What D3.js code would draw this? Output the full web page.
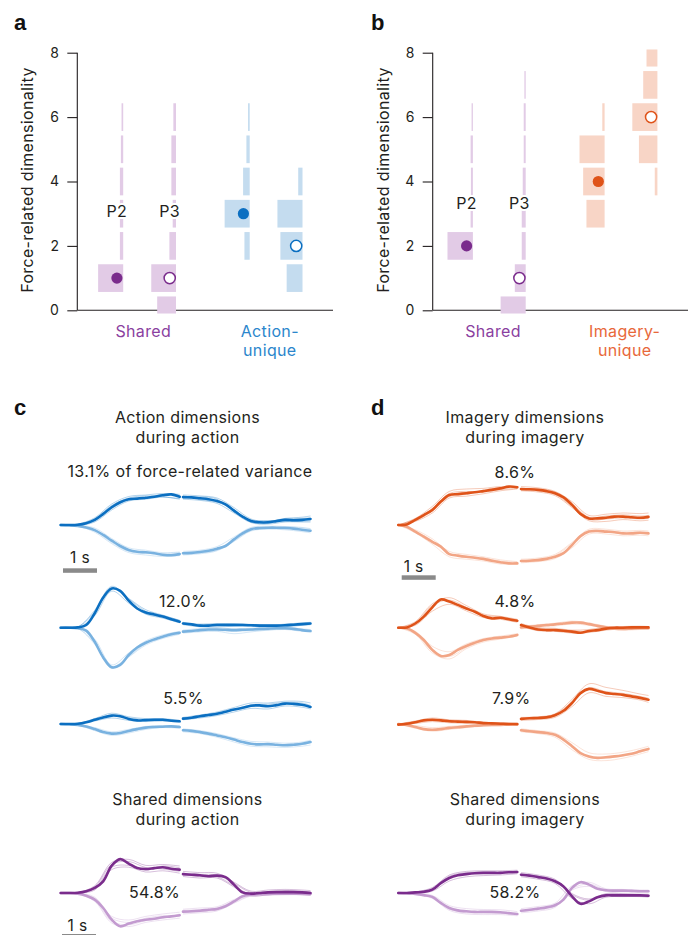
<!DOCTYPE html>
<html>
<head>
<meta charset="utf-8">
<script src="https://cdn.jsdelivr.net/npm/d3@7"></script>
<style>
  body { margin: 0; background: #fff; }
  svg { display: block; font-family: Inter, "Open Sans", "Noto Sans", Arial, sans-serif; letter-spacing: 0.35px; }
</style>
</head>
<body>
<svg id="fig" width="694" height="935"></svg>
<script>
// ---------- Dimensionality distributions (share of resamples per dimensionality 0..8) ----------
const dimValues = [0, 1, 2, 3, 4, 5, 6, 7, 8];
const yTicks = [0, 2, 4, 6, 8];
const participants = ["P2", "P3"];

const groupsAction = ["Shared", "Action-unique"];
const sharedActionP2 = [0, 0.76, 0.10, 0.10, 0.10, 0.07, 0.05, 0, 0];
const sharedActionP3 = [0.57, 0.75, 0.20, 0.10, 0.14, 0.14, 0.08, 0, 0];
const actionUniqueP2 = [0, 0, 0.16, 0.76, 0.20, 0.10, 0.05, 0, 0];
const actionUniqueP3 = [0, 0.48, 0.67, 0.76, 0.13, 0, 0, 0, 0];
const medianAction = [1, 1, 3, 2]; // Shared P2, Shared P3, Action P2, Action P3

const groupsImagery = ["Shared", "Imagery-unique"];
const sharedImageryP2 = [0, 0, 0.77, 0.07, 0.06, 0.07, 0.04, 0, 0];
const sharedImageryP3 = [0.76, 0.33, 0.12, 0.12, 0.09, 0.06, 0.06, 0.04, 0];
const imageryUniqueP2 = [0, 0, 0, 0.55, 0.65, 0.76, 0.07, 0, 0];
const imageryUniqueP3 = [0, 0, 0, 0, 0.08, 0.56, 0.76, 0.43, 0.33];
const medianImagery = [2, 1, 4, 6];

// ---------- Neural trajectories (a.u.), two halves per trace ----------
const tMeanL = d3.range(0, 3.5001, 0.25);
const tMeanR = d3.range(0, 3.7501, 0.25);
const tThinL = d3.range(0, 3.5001, 0.5);
const tThinR = d3.range(0, 3.5001, 0.5).concat([3.75]);

const actionDim1 = {
  hiL: [0, 0, .01, .06, .17, .37, .59, .76, .86, .88, .91, .94, .99, 1.02, .94],
  hiR: [.93, .92, .89, .86, .80, .69, .48, .28, .13, .09, .09, .13, .17, .16, .17, .20],
  loL: [0, -.01, -.03, -.08, -.17, -.33, -.52, -.70, -.83, -.89, -.91, -.94, -.99, -1.01, -.97],
  loR: [-.94, -.93, -.90, -.86, -.79, -.70, -.48, -.28, -.14, -.10, -.09, -.09, -.10, -.12, -.16, -.19],
  hiThin: [
    [0, .03, .24, .70, .95, 1.0, 1.05, 1.02, 1.0, .97, .9, .58, .2, .12, .22, .26, .3],
    [0, -.01, .10, .50, .80, .86, .93, .88, .86, .82, .72, .40, .08, .03, .10, .12, .14],
    [0, .02, .20, .65, .90, .97, .94, .86, .90, .94, .86, .44, .16, .15, .12, .10, .10],
    [0, 0, .14, .55, .84, .88, 1.02, .98, .96, .85, .76, .52, .10, .05, .20, .22, .24]
  ],
  loThin: [
    [0, -.04, -.24, -.62, -.92, -1.0, -1.05, -1.02, -1.0, -.96, -.86, -.55, -.2, -.14, -.16, -.22, -.26],
    [0, -.01, -.10, -.45, -.76, -.84, -.92, -.90, -.88, -.84, -.72, -.40, -.08, -.04, -.05, -.08, -.12],
    [0, -.02, -.20, -.58, -.88, -.95, -.96, -.92, -.96, -.93, -.84, -.52, -.18, -.12, -.06, -.10, -.14]
  ]
};
const actionDim2 = {
  hiL: [0, 0, .01, .09, .48, 1.01, 1.31, 1.23, .90, .64, .51, .44, .37, .28, .20],
  hiR: [.14, .11, .07, .07, .09, .09, .09, .09, .08, .07, .07, .07, .08, .10, .12, .14],
  loL: [0, 0, -.02, -.10, -.47, -.99, -1.32, -1.24, -.91, -.66, -.50, -.39, -.30, -.22, -.17],
  loR: [-.13, -.11, -.08, -.06, -.06, -.07, -.08, -.07, -.06, -.04, -.03, -.02, -.02, -.04, -.08, -.11],
  hiThin: [
    [0, .03, .58, 1.38, .98, .60, .42, .24, .18, .12, .14, .12, .10, .08, .12, .16, .18],
    [0, 0, .40, 1.22, .82, .45, .32, .16, .10, .03, .02, .05, .06, .04, .03, .08, .10],
    [0, .02, .52, 1.30, .95, .55, .40, .25, .16, .10, .12, .14, .11, .09, .06, .10, .12]
  ],
  loThin: [
    [0, -.03, -.55, -1.36, -.98, -.58, -.36, -.22, -.18, -.14, -.10, -.12, -.10, -.08, -.06, -.12, -.14],
    [0, 0, -.38, -1.24, -.84, -.44, -.24, -.12, -.08, -.03, -.01, -.04, -.02, .01, .02, -.04, -.06],
    [0, -.02, -.50, -1.30, -.95, -.54, -.32, -.20, -.16, -.10, -.12, -.20, -.14, -.08, -.04, -.10, -.12]
  ]
};
const actionDim3 = {
  hiL: [0, 0, .01, .06, .14, .22, .28, .26, .17, .12, .13, .14, .14, .11, .09],
  hiR: [.18, .21, .26, .30, .34, .41, .48, .54, .61, .62, .59, .63, .68, .67, .64, .57],
  loL: [0, -.01, -.03, -.08, -.17, -.27, -.32, -.30, -.23, -.17, -.12, -.10, -.09, -.08, -.10],
  loR: [-.21, -.23, -.27, -.32, -.38, -.44, -.52, -.60, -.66, -.68, -.67, -.69, -.71, -.69, -.66, -.60],
  hiThin: [
    [0, .02, .18, .36, .24, .18, .18, .12, .22, .30, .40, .55, .70, .70, .76, .75, .70],
    [0, 0, .10, .20, .12, .08, .10, .06, .14, .20, .28, .40, .52, .50, .60, .56, .50],
    [0, .01, .16, .30, .20, .15, .16, .10, .16, .24, .36, .46, .64, .66, .72, .70, .62]
  ],
  loThin: [
    [0, -.04, -.22, -.38, -.30, -.18, -.12, -.14, -.26, -.32, -.44, -.60, -.74, -.76, -.78, -.74, -.70],
    [0, -.01, -.12, -.26, -.18, -.08, -.05, -.06, -.16, -.22, -.32, -.46, -.58, -.60, -.64, -.60, -.54],
    [0, -.02, -.16, -.34, -.26, -.14, -.10, -.08, -.20, -.28, -.36, -.50, -.68, -.70, -.72, -.68, -.62]
  ]
};
const sharedDuringAction = {
  hiL: [0, 0, .01, .06, .17, .39, .91, 1.13, .98, .83, .80, .83, .86, .81, .78],
  hiR: [.63, .61, .59, .56, .58, .53, .28, .02, -.02, 0, .02, .03, .03, .03, .02, 0],
  loL: [0, 0, -.02, -.09, -.22, -.50, -.89, -1.11, -1.02, -.94, -.89, -.86, -.81, -.78, -.74],
  loR: [-.62, -.61, -.59, -.56, -.53, -.44, -.28, -.11, -.06, -.03, -.03, -.02, -.02, -.02, -.02, -.03],
  hiThin: [
    [0, .02, .24, 1.02, 1.12, .92, .95, .90, .72, .68, .66, .36, .06, .10, .12, .10, .08],
    [0, 0, .10, .78, .86, .70, .74, .66, .55, .50, .50, .20, -.10, -.06, -.04, -.06, -.08],
    [0, .01, .20, .95, 1.05, .85, .80, .72, .66, .62, .60, .32, .02, .05, .08, .06, .04],
    [0, .01, .14, .86, .92, .76, .90, .84, .60, .56, .54, .24, -.05, .00, .06, .04, .02]
  ],
  loThin: [
    [0, -.03, -.28, -1.0, -1.12, -.98, -.90, -.84, -.70, -.66, -.60, -.34, -.10, -.08, -.06, -.06, -.07],
    [0, 0, -.14, -.78, -.90, -.78, -.70, -.64, -.54, -.50, -.46, -.22, -.02, .02, .03, .02, .01],
    [0, -.02, -.24, -.94, -1.06, -.92, -.84, -.70, -.66, -.62, -.56, -.30, -.08, -.05, -.04, -.05, -.04],
    [0, -.01, -.18, -.84, -.98, -.84, -.76, -.78, -.58, -.55, -.50, -.26, -.04, .00, .01, .00, -.01]
  ]
};

const imageryDim1 = {
  hiL: [0, .02, .17, .33, .50, .78, 1.0, 1.03, 1.06, 1.09, 1.13, 1.17, 1.22, 1.28, 1.26],
  hiR: [1.20, 1.19, 1.17, 1.13, 1.06, .92, .67, .37, .22, .22, .24, .28, .28, .26, .24, .27],
  loL: [0, -.06, -.22, -.39, -.56, -.72, -.97, -1.02, -1.06, -1.09, -1.13, -1.19, -1.24, -1.28, -1.28],
  loR: [-1.20, -1.19, -1.17, -1.13, -1.06, -.94, -.67, -.37, -.22, -.20, -.22, -.24, -.28, -.28, -.26, -.28],
  hiThin: [
    [0, .22, .62, 1.12, 1.2, 1.22, 1.28, 1.24, 1.28, 1.24, 1.12, .78, .32, .36, .40, .38, .40],
    [0, .12, .40, .90, .96, 1.04, 1.14, 1.20, 1.14, 1.10, .98, .58, .14, .12, .18, .14, .16],
    [0, .20, .55, 1.05, 1.12, 1.10, 1.18, 1.22, 1.22, 1.20, 1.10, .72, .26, .30, .34, .30, .32],
    [0, .15, .46, .95, 1.02, 1.16, 1.25, 1.28, 1.16, 1.14, 1.02, .62, .18, .20, .24, .20, .22]
  ],
  loThin: [
    [0, -.26, -.64, -1.06, -1.14, -1.20, -1.30, -1.30, -1.26, -1.22, -1.12, -.76, -.30, -.30, -.36, -.34, -.36],
    [0, -.16, -.46, -.88, -.98, -1.06, -1.16, -1.22, -1.14, -1.10, -.98, -.58, -.14, -.14, -.20, -.18, -.20],
    [0, -.20, -.52, -.94, -1.04, -1.10, -1.20, -1.24, -1.18, -1.14, -1.02, -.62, -.18, -.18, -.24, -.22, -.24]
  ]
};
const imageryDim2 = {
  hiL: [0, .01, .14, .37, .68, .94, .87, .76, .64, .53, .39, .31, .33, .28, .23],
  hiR: [.09, .01, -.06, -.08, -.08, -.10, -.13, -.17, -.11, -.08, -.03, 0, 0, .01, .01, .01],
  loL: [0, -.02, -.17, -.41, -.74, -.94, -.91, -.74, -.61, -.50, -.41, -.36, -.33, -.30, -.24],
  loR: [.01, .03, .06, .09, .11, .14, .17, .17, .12, .06, .01, -.03, -.04, -.03, -.02, -.02],
  hiThin: [
    [0, .20, .80, 1.00, .74, .46, .38, .28, .14, 0, -.02, -.08, -.06, .02, .04, .05, .04],
    [0, .08, .55, .78, .56, .34, .28, .18, .04, -.10, -.12, -.18, -.16, -.08, -.04, -.03, -.02],
    [0, .16, .74, .92, .68, .42, .35, .26, .10, -.04, -.06, -.10, -.12, -.02, .02, .04, .03]
  ],
  loThin: [
    [0, -.22, -.84, -1.04, -.70, -.48, -.38, -.28, -.04, .02, .06, .12, .08, -.02, -.08, -.06, -.05],
    [0, -.12, -.62, -.80, -.54, -.36, -.28, -.20, .05, .10, .15, .22, .16, .05, 0, .02, .01],
    [0, -.18, -.78, -.96, -.66, -.44, -.34, -.26, .02, .08, .12, .18, .12, .03, -.06, -.02, -.03]
  ]
};
const imageryDim3 = {
  hiL: [-.02, .01, .06, .12, .14, .12, .09, .08, .07, .06, .03, .02, .01, 0, 0],
  hiR: [.17, .19, .20, .22, .29, .44, .70, 1.03, 1.17, 1.11, 1.03, 1.0, .97, .92, .87, .81],
  loL: [0, -.03, -.10, -.17, -.19, -.17, -.13, -.11, -.08, -.06, -.04, -.03, -.03, -.02, -.02],
  loR: [-.21, -.24, -.27, -.30, -.36, -.52, -.74, -.97, -1.08, -1.13, -1.11, -1.08, -1.04, -.99, -.91, -.83],
  hiThin: [
    [0, .10, .20, .14, .12, .06, .04, .02, .22, .24, .34, .82, 1.34, 1.22, 1.12, 1.00, .95],
    [0, .02, .08, .04, .02, -.02, -.03, -.02, .12, .15, .22, .58, 1.04, .92, .88, .80, .72],
    [0, .08, .16, .12, .08, .05, .03, .01, .18, .22, .32, .74, 1.20, 1.08, 1.02, .92, .86]
  ],
  loThin: [
    [0, -.14, -.24, -.18, -.12, -.07, -.05, -.03, -.26, -.32, -.44, -.86, -1.18, -1.22, -1.14, -1.0, -.92],
    [0, -.05, -.12, -.08, -.04, -.01, .00, .00, -.16, -.22, -.30, -.62, -.96, -1.0, -.94, -.82, -.74],
    [0, -.11, -.20, -.14, -.10, -.05, -.04, -.03, -.22, -.28, -.38, -.78, -1.12, -1.14, -1.06, -.94, -.86]
  ]
};
const sharedDuringImagery = {
  hiL: [0, 0, .02, .04, .11, .33, .50, .59, .63, .66, .67, .67, .67, .69, .70],
  hiR: [.61, .58, .53, .48, .39, .22, -.11, -.36, -.28, -.14, -.08, -.08, -.08, -.08, -.08, -.09],
  loL: [0, -.01, -.03, -.07, -.13, -.33, -.50, -.58, -.61, -.63, -.63, -.63, -.64, -.67, -.70],
  loR: [-.59, -.56, -.52, -.48, -.41, -.22, .17, .36, .28, .14, .09, .08, .08, .07, .06, .06],
  hiThin: [
    [0, .04, .18, .60, .72, .74, .74, .76, .68, .60, .46, -.02, -.20, -.02, -.02, -.04, -.04],
    [0, 0, .06, .40, .54, .58, .60, .64, .54, .46, .32, -.18, -.36, -.14, -.12, -.12, -.14],
    [0, .03, .14, .56, .68, .70, .70, .72, .64, .56, .42, -.06, -.24, -.05, -.05, -.06, -.06]
  ],
  loThin: [
    [0, -.05, -.18, -.58, -.70, -.72, -.72, -.76, -.66, -.60, -.48, .10, .22, .05, .04, .03, .03],
    [0, -.01, -.08, -.42, -.52, -.55, -.56, -.62, -.52, -.45, -.34, .24, .36, .14, .12, .10, .10],
    [0, -.04, -.16, -.54, -.66, -.66, -.68, -.72, -.62, -.56, -.44, .14, .30, .10, .08, .07, .06]
  ]
};

// ---------- Palette ----------
const ink = "#231f20";
const purple = { dark: "#7a2c8c", light: "#c39bd0", bar: "#e2cbe6", text: "#8a3fa0" };
const blue   = { dark: "#0b6fc1", light: "#79b2e0", bar: "#c4dcef", text: "#2b86cc" };
const orange = { dark: "#df5319", light: "#f2a585", bar: "#f8d5c6", text: "#e8683a" };

const svg = d3.select("#fig");

// panel letters
[["a", 14, 30], ["b", 371, 30], ["c", 14, 415], ["d", 371, 415]].forEach(([t, x, y]) => {
  svg.append("text").attr("x", x).attr("y", y).text(t)
    .attr("font-family", "'Liberation Sans', Arial, sans-serif").attr("letter-spacing", 0)
    .attr("font-weight", "bold").attr("font-size", 22).attr("fill", "#111");
});

// ---------- Panels a/b: dimensionality distributions ----------
const yDim = d3.scaleLinear().domain([0, 8]).range([310.3, 52.7]);
const wDim = d3.scaleLinear().domain([0, 1]).range([0, 33]);
const pOffset = d3.scalePoint().domain(participants).range([-26.4, 26.4]);

function dimPanel(cfg) {
  const g = svg.append("g");
  const gx = d3.scalePoint().domain(cfg.groups).range(cfg.groupRange);

  // y axis
  const axis = d3.axisLeft(yDim).tickValues(yTicks).tickSize(10).tickPadding(8);
  const ax = g.append("g").attr("transform", `translate(${cfg.axisX},0)`).call(axis);
  ax.select(".domain").remove();
  ax.selectAll(".tick line").attr("stroke", ink).attr("stroke-width", 1.1);
  ax.selectAll(".tick text").attr("font-size", 14).attr("fill", ink)
    .attr("font-family", "Inter, 'Open Sans', sans-serif");
  g.append("line").attr("x1", cfg.axisX).attr("x2", cfg.axisX)
    .attr("y1", yDim(0)).attr("y2", yDim(8)).attr("stroke", ink).attr("stroke-width", 1.1);
  g.append("line").attr("x1", cfg.axisX).attr("x2", cfg.axisEnd)
    .attr("y1", yDim(0)).attr("y2", yDim(0)).attr("stroke", ink).attr("stroke-width", 1.1);

  g.append("text")
    .attr("transform", `translate(${cfg.axisX - 44},${yDim(4) - 1.5}) rotate(-90)`)
    .attr("text-anchor", "middle").attr("font-size", 16).attr("fill", ink)
    .text("Force-related dimensionality");

  cfg.cols.forEach(c => {
    const cx = gx(c.group) + pOffset(c.p);
    const right = cx + 6.3;
    const pal = c.pal;
    dimValues.forEach((k, j) => {
      const s = c.share[j];
      if (!s) return;
      const lo = Math.max(k - 0.43, -0.1), hi = Math.min(k + 0.43, 8.1);
      g.append("rect")
        .attr("x", right - wDim(s)).attr("width", wDim(s))
        .attr("y", yDim(hi)).attr("height", yDim(lo) - yDim(hi))
        .attr("fill", pal.bar);
    });
    g.append("circle").attr("cx", cx).attr("cy", yDim(c.median)).attr("r", 5.6)
      .attr("fill", c.p === "P2" ? pal.dark : "#fff")
      .attr("stroke", pal.dark).attr("stroke-width", c.p === "P2" ? 0 : 1.5);
    if (c.group === "Shared") {
      g.append("text").attr("x", cx).attr("y", yDim(cfg.labelAt))
        .attr("text-anchor", "middle").attr("font-size", 16).attr("fill", ink)
        .attr("stroke", "#fff").attr("stroke-width", 4).attr("paint-order", "stroke")
        .text(c.p);
    }
  });

  cfg.groups.forEach((gr, i) => {
    const pal = cfg.groupPal[i];
    const parts = gr.includes("-") ? [gr.split("-")[0] + "-", gr.split("-")[1]] : [gr];
    parts.forEach((t, li) => {
      g.append("text").attr("x", gx(gr)).attr("y", 337 + li * 18.5)
        .attr("text-anchor", "middle").attr("font-size", 16).attr("fill", pal.text).text(t);
    });
  });
}

dimPanel({
  axisX: 77.3, axisEnd: 333, groups: groupsAction, groupRange: [143.3, 269.8],
  groupPal: [purple, blue], labelAt: 2.9,
  cols: [
    { group: "Shared", p: "P2", share: sharedActionP2, median: medianAction[0], pal: purple },
    { group: "Shared", p: "P3", share: sharedActionP3, median: medianAction[1], pal: purple },
    { group: "Action-unique", p: "P2", share: actionUniqueP2, median: medianAction[2], pal: blue },
    { group: "Action-unique", p: "P3", share: actionUniqueP3, median: medianAction[3], pal: blue }
  ]
});
dimPanel({
  axisX: 432.7, axisEnd: 688, groups: groupsImagery, groupRange: [493, 624.7],
  groupPal: [purple, orange], labelAt: 3.14,
  cols: [
    { group: "Shared", p: "P2", share: sharedImageryP2, median: medianImagery[0], pal: purple },
    { group: "Shared", p: "P3", share: sharedImageryP3, median: medianImagery[1], pal: purple },
    { group: "Imagery-unique", p: "P2", share: imageryUniqueP2, median: medianImagery[2], pal: orange },
    { group: "Imagery-unique", p: "P3", share: imageryUniqueP3, median: medianImagery[3], pal: orange }
  ]
});

// ---------- Panels c/d: trajectories ----------
const pxPerSecond = 34;
function trace(block, x0L, x0R, baseline, pal) {
  const g = svg.append("g");
  const xL = d3.scaleLinear().domain([0, 3.5]).range([x0L, x0L + 3.5 * pxPerSecond]);
  const xR = d3.scaleLinear().domain([0, 3.75]).range([x0R, x0R + 3.75 * pxPerSecond]);
  const y = d3.scaleLinear().domain([-1, 1]).range([baseline + 30, baseline - 30]);
  const mk = xs => d3.line().x(d => xs(d[0])).y(d => y(d[1])).curve(d3.curveCatmullRom.alpha(0.5));
  const lineL = mk(xL), lineR = mk(xR);

  const thin = (arr, color) => {
    const left = tThinL.map((t, i) => [t, arr[i]]);
    const right = tThinR.map((t, i) => [t, arr[tThinL.length + i]]);
    [[lineL, left], [lineR, right]].forEach(([fn, pts]) =>
      g.append("path").attr("d", fn(pts)).attr("fill", "none")
        .attr("stroke", color).attr("stroke-width", 1).attr("stroke-opacity", 0.3));
  };
  block.loThin.forEach(a => thin(a, pal.light));
  block.hiThin.forEach(a => thin(a, pal.dark));

  const mean = (vl, vr, color) => {
    g.append("path").attr("d", lineL(tMeanL.map((t, i) => [t, vl[i]])))
      .attr("fill", "none").attr("stroke", color).attr("stroke-width", 2.6).attr("stroke-linecap", "round");
    g.append("path").attr("d", lineR(tMeanR.map((t, i) => [t, vr[i]])))
      .attr("fill", "none").attr("stroke", color).attr("stroke-width", 2.6).attr("stroke-linecap", "round");
  };
  mean(block.loL, block.loR, pal.light);
  mean(block.hiL, block.hiR, pal.dark);
}

function label(text, x, y, size) {
  svg.append("text").attr("x", x).attr("y", y).attr("text-anchor", "middle")
    .attr("font-size", size || 16).attr("fill", ink).text(text);
}
function scaleBar(x, y, tx, ty) {
  svg.append("rect").attr("x", x).attr("y", y).attr("width", pxPerSecond).attr("height", 4.5).attr("fill", "#8a8a8a");
  label("1 s", tx, ty, 15.5);
}

const cL = 60.7, cR = 183, dL = 398.3, dR = 521;
const rows = [525, 627.7, 724, 893];

// c
label("Action dimensions", 187.5, 423.3);
label("during action", 187.5, 443.3);
label("13.1% of force-related variance", 190, 476.7);
trace(actionDim1, cL, cR, rows[0], blue);
scaleBar(63, 568.3, 80, 563);
trace(actionDim2, cL, cR, rows[1], blue);
label("12.0%", 183, 607);
trace(actionDim3, cL, cR, rows[2], blue);
label("5.5%", 183.5, 704);
label("Shared dimensions", 187.5, 805);
label("during action", 187.5, 825);
trace(sharedDuringAction, cL, cR, rows[3], purple);
label("54.8%", 154.5, 898.3);
scaleBar(62, 934, 77.5, 930.7);

// d
label("Imagery dimensions", 525, 423.3);
label("during imagery", 525, 443.3);
trace(imageryDim1, dL, dR, rows[0], orange);
label("8.6%", 515, 478);
scaleBar(401.7, 575.3, 413.7, 571.7);
trace(imageryDim2, dL, dR, rows[1], orange);
label("4.8%", 515, 607);
trace(imageryDim3, dL, dR, rows[2], orange);
label("7.9%", 511.3, 704);
label("Shared dimensions", 525, 805);
label("during imagery", 525, 825);
trace(sharedDuringImagery, dL, dR, rows[3], purple);
label("58.2%", 515, 898.3);
</script>
</body>
</html>
